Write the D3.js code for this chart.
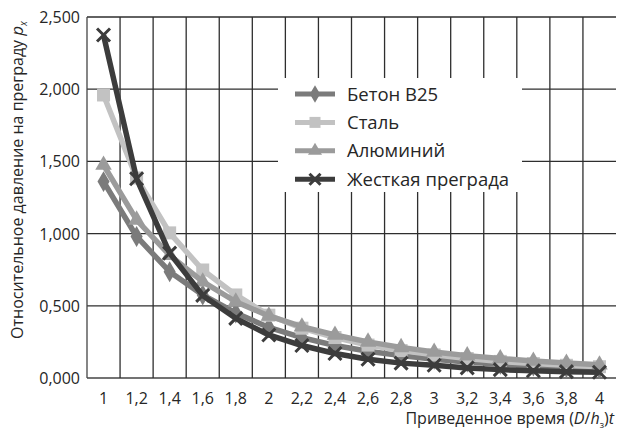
<!DOCTYPE html>
<html>
<head>
<meta charset="utf-8">
<script src="https://cdn.jsdelivr.net/npm/d3@7"></script>
<style>
  body { margin: 0; background: #fff; }
  svg text { font-family: "Open Sans", "Noto Sans", sans-serif; fill: #262626; }
</style>
</head>
<body>
<svg id="chart" width="620" height="432"></svg>
<script>
// categories (reduced time)
var times = ["1", "1,2", "1,4", "1,6", "1,8", "2", "2,2", "2,4", "2,6", "2,8", "3", "3,2", "3,4", "3,6", "3,8", "4"];
var yTicks = [0, 0.5, 1, 1.5, 2, 2.5];

// series values
var beton = [1.36, 0.98, 0.736, 0.575, 0.45, 0.35, 0.28, 0.225, 0.185, 0.155, 0.13, 0.11, 0.095, 0.083, 0.073, 0.065];
var steel = [1.96, 1.385, 1.005, 0.748, 0.575, 0.435, 0.345, 0.28, 0.228, 0.19, 0.16, 0.135, 0.115, 0.1, 0.088, 0.078];
var alum  = [1.475, 1.095, 0.85, 0.667, 0.528, 0.43, 0.355, 0.298, 0.25, 0.212, 0.18, 0.155, 0.135, 0.118, 0.104, 0.092];
var rigid = [2.375, 1.38, 0.865, 0.572, 0.413, 0.298, 0.225, 0.17, 0.13, 0.103, 0.088, 0.07, 0.058, 0.05, 0.044, 0.04];

var series = [
  { name: "Бетон B25", values: beton, color: "#7b7b7b", marker: "diamond" },
  { name: "Сталь", values: steel, color: "#c2c2c2", marker: "square" },
  { name: "Алюминий", values: alum, color: "#9b9b9b", marker: "triangle" },
  { name: "Жесткая преграда", values: rigid, color: "#3c3c3c", marker: "x" }
];

var svg = d3.select("#chart");
var plotL = 87, plotR = 616, plotT = 17, plotB = 378;

var x = d3.scaleBand().domain(times).range([plotL, plotR]);
var y = d3.scaleLinear().domain([0, 2.5]).range([plotB, plotT]);
var fmt = function (v) { return d3.format(".3f")(v).replace(".", ","); };

// horizontal gridlines
svg.append("g").selectAll("line")
  .data(yTicks)
  .enter().append("line")
  .attr("x1", plotL).attr("x2", plotR)
  .attr("y1", function (d) { return y(d); })
  .attr("y2", function (d) { return y(d); })
  .attr("stroke", function (d) { return d === 0 ? "#444" : "#2e2e2e"; })
  .attr("stroke-width", 1.3);

// vertical gridlines at category boundaries
svg.append("g").selectAll("line")
  .data(times)
  .enter().append("line")
  .attr("x1", function (d) { return x(d); })
  .attr("x2", function (d) { return x(d); })
  .attr("y1", plotT).attr("y2", plotB)
  .attr("stroke", function (d, i) { return i === 0 ? "#444" : "#2e2e2e"; })
  .attr("stroke-width", 1.3);

// y tick labels
svg.append("g").selectAll("text")
  .data(yTicks)
  .enter().append("text")
  .attr("x", 80)
  .attr("y", function (d) { return y(d) + 6; })
  .attr("text-anchor", "end")
  .attr("font-size", 16)
  .text(fmt);

// x tick labels
svg.append("g").selectAll("text")
  .data(times)
  .enter().append("text")
  .attr("x", function (d) { return x(d) + x.bandwidth() / 2; })
  .attr("y", 404)
  .attr("text-anchor", "middle")
  .attr("font-size", 16)
  .text(function (d) { return d; });

// axis titles
var xt = svg.append("text")
  .attr("x", 614).attr("y", 424)
  .attr("text-anchor", "end")
  .attr("font-size", 16);
xt.append("tspan").text("Приведенное время (");
xt.append("tspan").attr("font-style", "italic").text("D");
xt.append("tspan").text("/");
xt.append("tspan").attr("font-style", "italic").text("h");
xt.append("tspan").attr("font-size", 9).attr("dy", 4).text("з");
xt.append("tspan").attr("dy", -4).text(")");
xt.append("tspan").attr("font-style", "italic").text("t");

var yt = svg.append("text")
  .attr("transform", "translate(23,180) rotate(-90)")
  .attr("text-anchor", "middle")
  .attr("font-size", 16);
yt.append("tspan").text("Относительное давление на преграду ");
yt.append("tspan").attr("font-style", "italic").attr("font-size", 17).text("p");
yt.append("tspan").attr("font-style", "italic").attr("font-size", 10).attr("dy", 4).text("x");

function drawMarker(g, type, color, size) {
  if (type === "diamond") {
    g.append("path").attr("d", d3.symbol(d3.symbolDiamond, size * size * 0.75)())
      .attr("fill", color);
  } else if (type === "square") {
    g.append("rect").attr("x", -size / 2).attr("y", -size / 2)
      .attr("width", size).attr("height", size).attr("fill", color);
  } else if (type === "triangle") {
    g.append("path").attr("d", d3.symbol(d3.symbolTriangle, size * size * 0.7)())
      .attr("fill", color);
  } else {
    var h = size / 2;
    g.append("path").attr("d", "M" + (-h) + "," + (-h) + "L" + h + "," + h + "M" + (-h) + "," + h + "L" + h + "," + (-h))
      .attr("stroke", color).attr("stroke-width", 3).attr("fill", "none");
  }
}

var line = d3.line()
  .x(function (d, i) { return x(times[i]) + x.bandwidth() / 2; })
  .y(function (d) { return y(d); });

series.forEach(function (s) {
  svg.append("path")
    .datum(s.values)
    .attr("d", line)
    .attr("fill", "none")
    .attr("stroke", s.color)
    .attr("stroke-width", 5.5)
    .attr("stroke-linejoin", "round");
  svg.append("g").selectAll("g")
    .data(s.values)
    .enter().append("g")
    .attr("transform", function (d, i) {
      return "translate(" + (x(times[i]) + x.bandwidth() / 2) + "," + y(d) + ")";
    })
    .each(function () { drawMarker(d3.select(this), s.marker, s.color, 13); });
});

// legend
var legend = svg.append("g");
legend.append("rect")
  .attr("x", 278).attr("y", 78).attr("width", 244).attr("height", 114)
  .attr("fill", "#fff");
var rows = legend.selectAll("g")
  .data(series)
  .enter().append("g")
  .attr("transform", function (d, i) { return "translate(0," + (94 + i * 28.4) + ")"; });
rows.append("line")
  .attr("x1", 295).attr("x2", 335).attr("y1", 0).attr("y2", 0)
  .attr("stroke", function (d) { return d.color; })
  .attr("stroke-width", 5);
rows.append("g")
  .attr("transform", "translate(315,0)")
  .each(function (d) { drawMarker(d3.select(this), d.marker, d.color, 11); });
rows.append("text")
  .attr("x", 347).attr("y", 6.5)
  .attr("font-size", 18.5)
  .text(function (d) { return d.name; });
</script>
</body>
</html>
